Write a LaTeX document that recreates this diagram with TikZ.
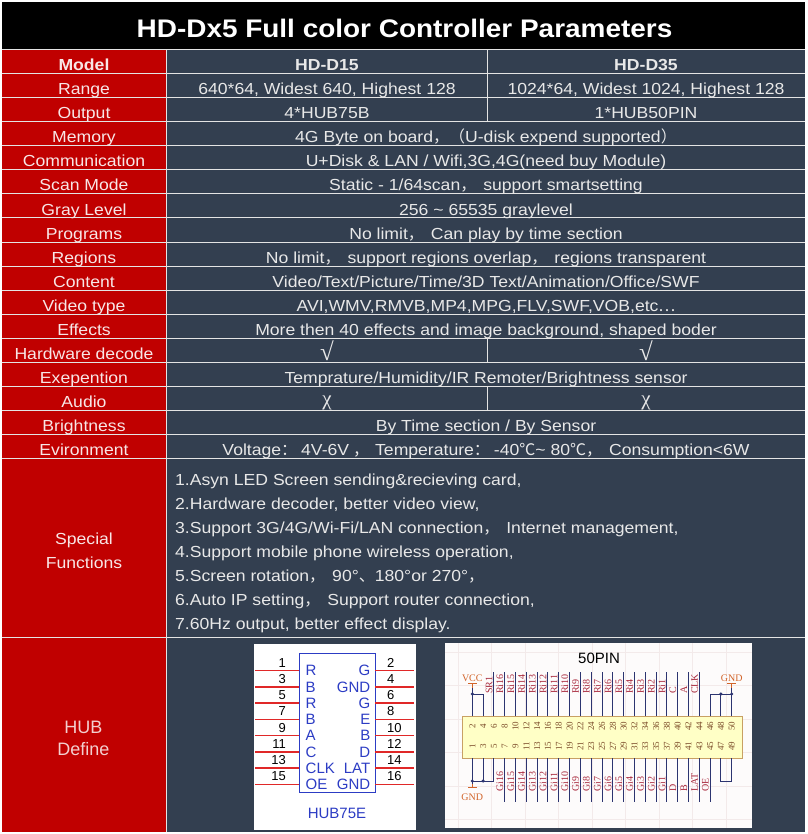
\documentclass[tikz,border=0pt]{standalone}
\usepackage{fontspec}
\setmainfont{Liberation Sans}[FakeStretch=1.1]
\newfontfamily\plainsans{Liberation Sans}
\newfontfamily\pinserif{Liberation Serif}
\newfontfamily\cjkp{Noto Sans CJK SC}
\newcommand\fwc{{\cjkp ，}\hspace{7pt}}
\definecolor{hdred}{HTML}{C00000}
\definecolor{hdslate}{HTML}{333F50}
\definecolor{hdrule}{HTML}{E4E4E4}
\definecolor{hdtext}{HTML}{E8E8E8}
\definecolor{hdlab}{HTML}{F8E6E6}
\definecolor{hubblue}{HTML}{2C3CC4}
\definecolor{hubred}{HTML}{E02828}
\definecolor{pinnavy}{HTML}{2C3470}
\definecolor{pinlab}{HTML}{A8283C}
\definecolor{pinnum}{HTML}{7A4A28}
\definecolor{pwr}{HTML}{D2642A}
\definecolor{connfill}{HTML}{FFFFC6}
\definecolor{connedge}{HTML}{C8A064}
\definecolor{sheetgrid}{HTML}{F3EAEA}
\begin{document}
\begin{tikzpicture}[x=1pt,y=-1pt,every node/.style={inner sep=0pt},
  rowlab/.style={text=hdlab,font=\fontsize{16}{16}\selectfont,anchor=base},
  rowval/.style={text=hdtext,font=\fontsize{16}{16}\selectfont,anchor=base},
  mark2/.style={rowval,font=\pinserif\fontsize{21}{21}\selectfont},
  tick2/.style={rowval,font=\pinserif\fontsize{25}{25}\selectfont},
  rule/.style={draw=hdrule,line width=1pt},
  hubpin/.style={draw=hubred,line width=1.4pt},
  hubname/.style={text=hubblue,font=\plainsans\fontsize{15}{15}\selectfont},
  hubno/.style={text=black,font=\plainsans\fontsize{13}{13}\selectfont},
  wire/.style={draw=pinnavy,line width=1pt},
  pwrbar/.style={draw=pwr,line width=1pt},
  pwrname/.style={text=pwr,font=\pinserif\fontsize{10}{10}\selectfont},
  netname/.style={text=pinlab,font=\pinserif\fontsize{10}{10}\selectfont,rotate=90,anchor=base west},
  pinno/.style={text=pinnum,font=\pinserif\fontsize{9}{9}\selectfont,rotate=90},
  jdot/.style={circle,fill=pinnavy,minimum size=3.4pt}]
  \useasboundingbox (0,0) rectangle (807,834);
  \fill[white] (0,0) rectangle (807,834);
  % title
  \fill[black] (2,2) rectangle (805,50);
  \node[text=white,font=\bfseries\fontsize{25.4}{25.4}\selectfont,anchor=base] (title) at (404.5,37.3)
    {HD-Dx5 Full color Controller Parameters};
  % cells
  \fill[hdred] (2,50) rectangle (166,832);
  \fill[hdslate] (166,50) rectangle (805,832);
  \foreach \k in {0,...,17} \draw[rule] (2,50+24*\k) -- (805,50+24*\k);
  \draw[rule] (2,637) -- (805,637);
  \draw[rule] (166,50) -- (166,832);
  \foreach \k in {0,1,2,12,14} \draw[rule] (487,50+24*\k) -- (487,74+24*\k);
  % row names
  \node[rowlab,font=\bfseries\fontsize{16}{16}\selectfont] (lab0) at (84,71) {Model};
  \foreach \lab [count=\k from 1] in {Range,Output,Memory,Communication,Scan Mode,Gray Level,
      Programs,Regions,Content,Video type,Effects,Hardware decode,Exepention,Audio,Brightness,Evironment}
    \node[rowlab] (lab\k) at (84,71+24*\k) {\lab};
  \node[rowlab] (labsf) at (84,544) {Special};
  \node[rowlab] (labsf2) at (84,568) {Functions};
  \node[rowlab,font=\plainsans\fontsize{18}{18}\selectfont,text=hdlab!90!hdred] (labhub) at (83.5,733) {HUB};
  \node[rowlab,font=\plainsans\fontsize{18}{18}\selectfont,text=hdlab!90!hdred] (labhub2) at (83.5,755) {Define};
  % values
  \node[rowval,font=\bfseries\fontsize{16}{16}\selectfont] (val0a) at (327,71) {HD-D15};
  \node[rowval,font=\bfseries\fontsize{16}{16}\selectfont] (val0b) at (646,71) {HD-D35};
  \node[rowval] (val1a) at (327,95) {640*64, Widest 640, Highest 128};
  \node[rowval] (val1b) at (646,95) {1024*64, Widest 1024, Highest 128};
  \node[rowval] (val2a) at (327,119) {4*HUB75B};
  \node[rowval] (val2b) at (646,119) {1*HUB50PIN};
  \node[rowval] (val3) at (486,143) {4G Byte on board{\cjkp ，（}U-disk expend supported{\cjkp ）}};
  \node[rowval] (val4) at (486,167) {U+Disk \& LAN / Wifi,3G,4G(need buy Module)};
  \node[rowval] (val5) at (486,191) {Static - 1/64scan\fwc support smartsetting};
  \node[rowval] (val6) at (486,215) {256 \textasciitilde{} 65535 graylevel};
  \node[rowval] (val7) at (486,239) {No limit\fwc Can play by time section};
  \node[rowval] (val8) at (486,263) {No limit\fwc support regions overlap\fwc regions transparent};
  \node[rowval] (val9) at (486,287) {Video/Text/Picture/Time/3D Text/Animation/Office/SWF};
  \node[rowval] (val10) at (486,311) {AVI,WMV,RMVB,MP4,MPG,FLV,SWF,VOB,etc{\cjkp …}};
  \node[rowval] (val11) at (486,335) {More then 40 effects and image background, shaped boder};
  \node[tick2] (val12a) at (327,360) {√};
  \node[tick2] (val12b) at (646,360) {√};
  \node[rowval] (val13) at (486,383) {Temprature/Humidity/IR Remoter/Brightness sensor};
  \node[mark2] (val14a) at (327,405) {χ};
  \node[mark2] (val14b) at (646,405) {χ};
  \node[rowval] (val15) at (486,431) {By Time section / By Sensor};
  \node[rowval] (val16) at (486,455) {Voltage{\cjkp ：}\hspace{4pt}4V-6V\hspace{4pt}{\cjkp ，}\hspace{6pt}Temperature{\cjkp ：}\hspace{4pt}-40{\cjkp ℃}\textasciitilde{} 80{\cjkp ℃}\fwc Consumption<6W};
  % special functions
  \foreach \ln [count=\j from 0] in {{1.Asyn LED Screen sending\&recieving card,},
      {2.Hardware decoder, better video view,},
      {3.Support 3G/4G/Wi-Fi/LAN connection\fwc Internet management,},
      {4.Support mobile phone wireless operation,},
      {5.Screen rotation\fwc 90°{\cjkp 、}180°or 270°{\cjkp ，}},
      {6.Auto IP setting\fwc Support router connection,},
      {7.60Hz output, better effect display.}}
    \node[rowval,anchor=base west] (sf\j) at (175,485+24*\j) {\ln};
  % hub75e
  \scope
  \fill[white] (254,644) rectangle (416,830);
  \node[draw=hubblue,line width=1.4pt,minimum width=76pt,minimum height=139pt,anchor=north west] (hubchip) at (299,653) {};
  \foreach \l/\r [count=\i from 0] in {R/G,B/GND,R/G,B/E,A/B,C/D,CLK/LAT,OE/GND}{
    \pgfmathsetmacro\py{670.7+16.23*\i}
    \pgfmathtruncatemacro\po{2*\i+1}
    \pgfmathtruncatemacro\pe{2*\i+2}
    \draw[hubpin] (255,\py) -- (299,\py);
    \draw[hubpin] (375,\py) -- (414,\py);
    \node[hubno,anchor=base east] (hn\po) at (286,\py-3.5) {\po};
    \node[hubno,anchor=base west] (hn\pe) at (387,\py-3.5) {\pe};
    \node[hubname,anchor=west] (hl\i) at (305.5,\py) {\l};
    \node[hubname,anchor=east] (hr\i) at (370.5,\py) {\r};
  }
  \node[hubname,anchor=base] (hubtitle) at (337,818) {HUB75E};
  \endscope
  % 50 pin
  \scope
  \fill[white!98!pinlab] (445,643) rectangle (752,828);
  \clip (445,643) rectangle (752,828);
  \foreach \gx in {458,491.5,...,752} \draw[sheetgrid,line width=0.5pt] (\gx,643) -- (\gx,828);
  \foreach \gy in {652,685.5,...,828} \draw[sheetgrid,line width=0.5pt] (445,\gy) -- (752,\gy);
  \endscope
  \scope
  \node[font=\plainsans\fontsize{15}{15}\selectfont,anchor=base] (pintitle) at (599,663.3) {50PIN};
  \node[draw=connedge,fill=connfill,line width=0.9pt,minimum width=280pt,minimum height=42pt,anchor=north west] (conn) at (462,716) {};
  \foreach \k in {0,...,24}{
    \pgfmathsetmacro\px{472.3+10.81*\k}
    \pgfmathtruncatemacro\pe{2*\k+2}
    \pgfmathtruncatemacro\po{2*\k+1}
    \node[pinno] (pe\pe) at (\px,726) {\pe};
    \node[pinno] (po\po) at (\px,746) {\po};
  }
  \foreach \n [count=\c from 2] in {SR1,Ri16,Ri15,Ri14,Ri13,Ri12,Ri11,Ri10,Ri9,Ri8,Ri7,Ri6,Ri5,Ri4,Ri3,Ri2,Ri1,C,A,CLK}{
    \pgfmathsetmacro\px{472.3+10.81*\c}
    \draw[wire] (\px,716) -- (\px,672.3);
    \node[netname] (top\c) at (\px-1.5,694) {\n};
  }
  \foreach \n [count=\c from 3] in {Gi16,Gi15,Gi14,Gi13,Gi12,Gi11,Gi10,Gi9,Gi8,Gi7,Gi6,Gi5,Gi4,Gi3,Gi2,Gi1,D,B,LAT,OE}{
    \pgfmathsetmacro\px{472.3+10.81*\c}
    \draw[wire] (\px,758) -- (\px,801.7);
    \node[netname] (bot\c) at (\px-1.5,792) {\n};
  }
  % vcc and gnd
  \draw[wire] (472.3,716) -- (472.3,688);
  \draw[wire] (483.1,716) -- (483.1,694) -- (472.3,694);
  \draw[pwrbar] (472.3,688) -- (472.3,683) (468,683) -- (476.6,683);
  \node[pwrname] (vcc) at (472.3,678) {VCC};
  \node[jdot] (jv) at (472.3,694) {};
  \draw[wire] (710.1,716) -- (710.1,694) -- (731.7,694) (720.9,716) -- (720.9,694) (731.7,716) -- (731.7,688);
  \draw[pwrbar] (731.7,688) -- (731.7,683) (727.4,683) -- (736,683);
  \node[pwrname] (gndtop) at (731.7,678) {GND};
  \node[jdot] (jg1) at (720.9,694) {};
  \node[jdot] (jg2) at (731.7,694) {};
  \draw[wire] (472.3,758) -- (472.3,784) (483.1,758) -- (483.1,781) (493.9,758) -- (493.9,781) -- (472.3,781);
  \draw[pwrbar] (472.3,784) -- (472.3,787) (468,787) -- (476.6,787);
  \node[pwrname] (gndbot) at (472.3,797) {GND};
  \node[jdot] (jg3) at (472.3,781) {};
  \node[jdot] (jg4) at (483.1,781) {};
  \draw[wire] (720.9,758) -- (720.9,781) -- (731.7,781) -- (731.7,758);
  \endscope
\end{tikzpicture}
\end{document}
